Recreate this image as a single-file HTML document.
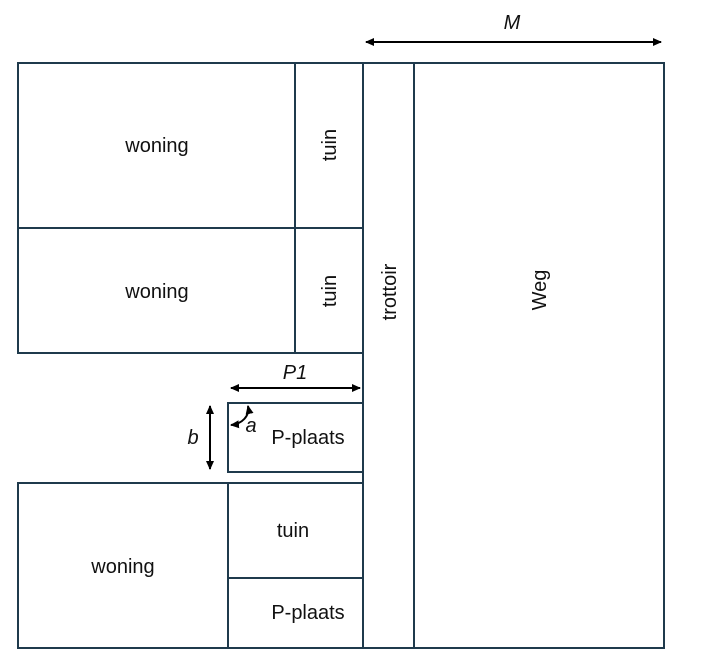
<!DOCTYPE html>
<html><head><style>body{margin:0;background:#fff}svg{display:block}text{font-family:"Liberation Sans",sans-serif;font-size:20px;fill:#111}</style></head>
<body>
<svg width="709" height="656" viewBox="0 0 709 656" xmlns="http://www.w3.org/2000/svg">
<defs><marker id="ar" markerWidth="10" markerHeight="10" refX="8" refY="5" orient="auto-start-reverse" markerUnits="userSpaceOnUse"><path d="M0,1 L9,5 L0,9 z" fill="#000"/></marker></defs>
<g fill="none" stroke="#1f3a4c" stroke-width="2">
<rect x="18" y="63" width="277" height="165"/>
<rect x="295" y="63" width="68" height="165"/>
<rect x="18" y="228" width="277" height="125"/>
<rect x="295" y="228" width="68" height="125"/>
<rect x="363" y="63" width="51" height="585"/>
<rect x="414" y="63" width="250" height="585"/>
<rect x="228" y="403" width="135" height="69"/>
<rect x="18" y="483" width="210" height="165"/>
<rect x="228" y="483" width="135" height="95"/>
<rect x="228" y="578" width="135" height="70"/>
</g>
<g stroke="#000" stroke-width="2" fill="none">
<line x1="366" y1="42" x2="661" y2="42" marker-start="url(#ar)" marker-end="url(#ar)"/>
<line x1="231" y1="388" x2="360" y2="388" marker-start="url(#ar)" marker-end="url(#ar)"/>
<line x1="210" y1="406" x2="210" y2="469" marker-start="url(#ar)" marker-end="url(#ar)"/>
<path d="M248,406 C250,416 242,424 231,425" marker-start="url(#ar)" marker-end="url(#ar)"/>
</g>
<text x="512" y="29" text-anchor="middle" font-style="italic">M</text>
<text x="295" y="379" text-anchor="middle" font-style="italic">P1</text>
<text x="193" y="444" text-anchor="middle" font-style="italic">b</text>
<text x="251" y="432" text-anchor="middle" font-style="italic">a</text>
<text x="157" y="152" text-anchor="middle">woning</text>
<text x="157" y="298" text-anchor="middle">woning</text>
<text x="123" y="573" text-anchor="middle">woning</text>
<text x="308" y="444" text-anchor="middle">P-plaats</text>
<text x="293" y="537" text-anchor="middle">tuin</text>
<text x="308" y="619" text-anchor="middle">P-plaats</text>
<text transform="translate(336,145) rotate(-90)" text-anchor="middle">tuin</text>
<text transform="translate(336,291) rotate(-90)" text-anchor="middle">tuin</text>
<text transform="translate(396,292) rotate(-90)" text-anchor="middle">trottoir</text>
<text transform="translate(546,290) rotate(-90)" text-anchor="middle">Weg</text>
</svg>
</body></html>
